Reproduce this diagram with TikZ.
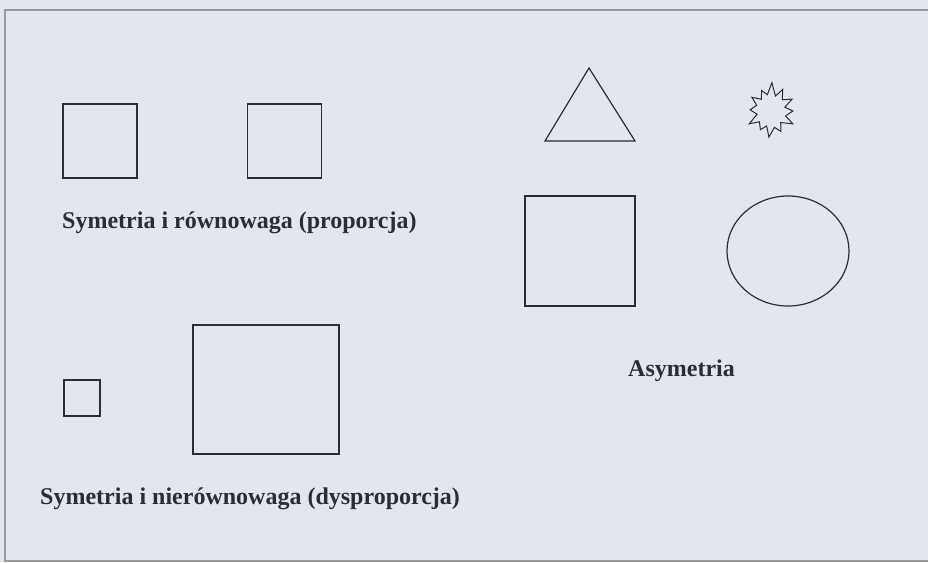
\documentclass[tikz,border=0pt]{standalone}
\usepackage{fontspec}
\setmainfont{Liberation Serif}
\usetikzlibrary{positioning, shapes.geometric}

\definecolor{paper}{HTML}{E3E6ED}
\definecolor{ink}{HTML}{2C2C31}

\begin{document}
\begin{tikzpicture}[
  x=1pt, y=-1pt,
  shape line/.style={draw=ink, line width=1.2pt, line join=miter},
  sq/.style={shape line, rectangle, inner sep=0pt},
  caption/.style={anchor=base west, inner sep=0pt, text=ink,
                  font=\fontsize{24}{28}\selectfont\bfseries}
]
  % paper and frame
  \fill[paper] (0,0) rectangle (928,562);
  \useasboundingbox (0,0) rectangle (928,562);
  \draw[draw=gray!80, line width=1.4pt] (930,10) -- (5,10) -- (5,561) -- (930,561);

  % Symetria i rownowaga
  \node[sq, minimum size=74pt] (sqa) at (100,141) {};
  \node[sq, minimum size=74pt] (sqb) at (284.5,141) {};
  \node[caption] (symr) at (62,228) {Symetria i równowaga (proporcja)};

  % Symetria i nierownowaga
  \node[sq, minimum size=36pt] (sqc) at (82,398) {};
  \node[sq, minimum width=146pt, minimum height=129pt] (sqd) at (266,389.5) {};
  \node[caption] (symn) at (40,504) {Symetria i nierównowaga (dysproporcja)};

  % Asymetria
  \draw[shape line] (545,141) -- (589,68) -- (635,141) -- cycle;
  \draw[shape line, line width=1pt, shift={(771,111)}, xscale=0.95, yscale=1.05]
    (0:23) \foreach \a/\r in {17/16, 28/26, 47/15, 62/22, 77/16, 95/25,
      108/15, 122/21, 140/16, 152/26, 168/15, 183/22, 200/16, 213/24,
      228/15, 243/22, 256/16, 272/27, 288/15, 301/24, 318/16, 333/25,
      346/15} { -- (\a:\r) } -- cycle;
  \node[sq, minimum size=110pt] (sqe) at (580,251) {};
  \node[shape line, ellipse, minimum width=122pt, minimum height=110pt,
        inner sep=0pt] (circ) at (788,251) {};
  \node[caption] (asym) at (628,376) {Asymetria};
\end{tikzpicture}
\end{document}
